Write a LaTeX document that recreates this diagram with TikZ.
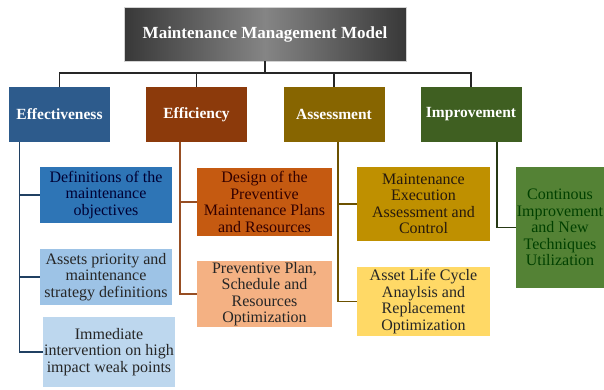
\documentclass[tikz,border=0pt]{standalone}
\usepackage{fontspec}
\setmainfont{Liberation Serif}
\usetikzlibrary{positioning}

\definecolor{effcol}{HTML}{2D5B8C}
\definecolor{efficol}{HTML}{8C3A0B}
\definecolor{asscol}{HTML}{876500}
\definecolor{impcol}{HTML}{3F5F21}
\definecolor{defcol}{HTML}{2E75B6}
\definecolor{priocol}{HTML}{9DC3E6}
\definecolor{immcol}{HTML}{BDD7EE}
\definecolor{descol}{HTML}{C55A11}
\definecolor{plancol}{HTML}{F4B183}
\definecolor{execcol}{HTML}{BF9000}
\definecolor{lifecol}{HTML}{FFD966}
\definecolor{contcol}{HTML}{548235}

\begin{document}
\begin{tikzpicture}[x=1pt,y=-1pt,
    head/.style={draw=gray!35,left color=black!78,right color=black!78,middle color=black!48,
      text=white,font=\bfseries\fontsize{17}{20}\selectfont,minimum width=282pt,minimum height=54pt},
    pillar/.style={fill=#1,text=white,font=\bfseries\fontsize{15.5}{18}\selectfont,
      minimum width=101pt,minimum height=55pt,inner sep=0pt},
    task/.style={fill=#1,align=center,inner sep=0pt,font=\fontsize{16}{16.5}\selectfont},
    bus/.style={line width=1.8pt,black!85},
    trunk/.style={line width=1.3pt,#1}]
  \useasboundingbox (0,0) rectangle (604,389);

  \node[head] (top) at (265,34) {Maintenance Management Model};
  \node[pillar=effcol] (eff) at (59.5,114.5) {Effectiveness};
  \node[pillar=efficol] (effi) at (196.5,114.5) {Efficiency};
  \node[pillar=asscol] (ass) at (334,114.5) {Assessment};
  \node[pillar=impcol] (imp) at (471,114.5) {Improvement};

  \coordinate (busy) at (0,73);
  \draw[bus] (top.south) -- (top.south |- busy);
  \draw[bus] (eff.north) -- (eff.north |- busy) -| (imp.north);
  \draw[bus] (effi.north) -- (effi.north |- busy);
  \draw[bus] (ass.north) -- (ass.north |- busy);

  \node[task=defcol,text=black!80!blue,minimum width=132pt,minimum height=56pt] (defs) at (106,195)
    {Definitions of the\\maintenance\\objectives};
  \node[task=priocol,text=black!85,minimum width=132pt,minimum height=56pt] (prio) at (106,277)
    {Assets priority and\\maintenance\\strategy definitions};
  \node[task=immcol,text=black!85,minimum width=132pt,minimum height=70pt] (immed) at (109,352)
    {Immediate\\intervention on high\\impact weak points};
  \node[task=descol,text=black!80!red,minimum width=135pt,minimum height=68pt] (design) at (264.5,202)
    {Design of the\\Preventive\\Maintenance Plans\\and Resources};
  \node[task=plancol,text=black!85,minimum width=135pt,minimum height=66pt] (plan) at (264.5,294)
    {Preventive Plan,\\Schedule and\\Resources\\Optimization};
  \node[task=execcol,text=black!80!brown,minimum width=133pt,minimum height=74pt] (exec) at (423.5,204)
    {Maintenance\\Execution\\Assessment and\\Control};
  \node[task=lifecol,text=black!85,minimum width=133pt,minimum height=69pt] (life) at (423.5,301.5)
    {Asset Life Cycle\\Anaylsis and\\Replacement\\Optimization};
  \node[task=contcol,text=black!75!green,minimum width=88pt,minimum height=121pt] (cont) at (560,227.5)
    {Continous\\Improvement\\and New\\Techniques\\Utilization};

  \coordinate (efft) at ([xshift=11pt]eff.south west);
  \coordinate (effit) at ([xshift=-16.5pt]effi.south);
  \coordinate (asst) at ([xshift=4pt]ass.south);
  \coordinate (impt) at ([xshift=26pt]imp.south);
  \draw[trunk=effcol!70!black] (efft) |- (defs.west);
  \draw[trunk=effcol!70!black] (efft) |- (prio.west);
  \draw[trunk=effcol!70!black] (efft) |- (immed.west);
  \draw[trunk=efficol!90] (effit) |- (design.west);
  \draw[trunk=efficol!90] (effit) |- (plan.west);
  \draw[trunk=asscol!80!black] (asst) |- (exec.west);
  \draw[trunk=asscol!80!black] (asst) |- (life.west);
  \draw[trunk=impcol!60!black] (impt) |- (cont.west);
\end{tikzpicture}
\end{document}
